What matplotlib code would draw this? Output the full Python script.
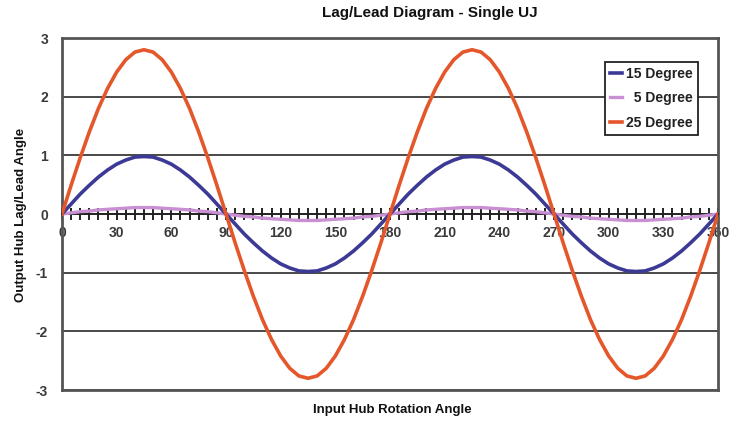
import matplotlib
matplotlib.use("Agg")
import matplotlib.pyplot as plt
from matplotlib.ticker import MultipleLocator

plt.rcParams['font.family'] = ['Liberation Sans', 'DejaVu Sans']

angles = list(range(0, 361, 5))

deg15 = [0, 0.17, 0.34, 0.49, 0.63, 0.75, 0.85, 0.92, 0.97, 0.98, 0.97, 0.92, 0.85, 0.75, 0.63, 0.49, 0.34, 0.17,
         0, -0.17, -0.34, -0.49, -0.63, -0.75, -0.85, -0.92, -0.97, -0.98, -0.97, -0.92, -0.85, -0.75, -0.63, -0.49, -0.34, -0.17,
         0, 0.17, 0.34, 0.49, 0.63, 0.75, 0.85, 0.92, 0.97, 0.98, 0.97, 0.92, 0.85, 0.75, 0.63, 0.49, 0.34, 0.17,
         0, -0.17, -0.34, -0.49, -0.63, -0.75, -0.85, -0.92, -0.97, -0.98, -0.97, -0.92, -0.85, -0.75, -0.63, -0.49, -0.34, -0.17, 0]

deg5 = [0, 0.02, 0.04, 0.05, 0.07, 0.08, 0.09, 0.10, 0.11, 0.11, 0.11, 0.10, 0.09, 0.08, 0.07, 0.05, 0.04, 0.02,
        0, -0.02, -0.04, -0.05, -0.07, -0.08, -0.09, -0.10, -0.11, -0.11, -0.11, -0.10, -0.09, -0.08, -0.07, -0.05, -0.04, -0.02,
        0, 0.02, 0.04, 0.05, 0.07, 0.08, 0.09, 0.10, 0.11, 0.11, 0.11, 0.10, 0.09, 0.08, 0.07, 0.05, 0.04, 0.02,
        0, -0.02, -0.04, -0.05, -0.07, -0.08, -0.09, -0.10, -0.11, -0.11, -0.11, -0.10, -0.09, -0.08, -0.07, -0.05, -0.04, -0.02, 0]

deg25 = [0, 0.49, 0.96, 1.40, 1.80, 2.14, 2.42, 2.63, 2.76, 2.80, 2.76, 2.63, 2.42, 2.14, 1.80, 1.40, 0.96, 0.49,
         0, -0.49, -0.96, -1.40, -1.80, -2.14, -2.42, -2.63, -2.76, -2.80, -2.76, -2.63, -2.42, -2.14, -1.80, -1.40, -0.96, -0.49,
         0, 0.49, 0.96, 1.40, 1.80, 2.14, 2.42, 2.63, 2.76, 2.80, 2.76, 2.63, 2.42, 2.14, 1.80, 1.40, 0.96, 0.49,
         0, -0.49, -0.96, -1.40, -1.80, -2.14, -2.42, -2.63, -2.76, -2.80, -2.76, -2.63, -2.42, -2.14, -1.80, -1.40, -0.96, -0.49, 0]

x_ticks = list(range(0, 361, 30))
y_ticks = [-3, -2, -1, 0, 1, 2, 3]

fig = plt.figure(figsize=(7.46, 4.21), dpi=100)
ax = fig.add_axes([0.0831, 0.0736, 0.8794, 0.8361])

for yv in y_ticks:
    ax.axhline(yv, color='#3a3a3a', lw=1.3, zorder=1)

l15, = ax.plot(angles, deg15, color='#3d3a96', lw=2.6, zorder=4, label='15 Degree')
l5, = ax.plot(angles, deg5, color='#c890d2', lw=2.4, zorder=3, label='  5 Degree')
l25, = ax.plot(angles, deg25, color='#e4572b', lw=2.6, zorder=5, label='25 Degree')

ax.set_xlim(0, 360)
ax.set_ylim(-3, 3)

ax.spines['bottom'].set_position(('data', 0))
ax.spines['bottom'].set_color('#222222')
ax.spines['bottom'].set_linewidth(1.3)
for s in ['left', 'top', 'right']:
    ax.spines[s].set_color('#555555')
    ax.spines[s].set_linewidth(2.0)
ax.axhline(-3, color='#555555', lw=2.0, zorder=6, clip_on=False)

ax.set_xticks(x_ticks)
ax.xaxis.set_minor_locator(MultipleLocator(5))
ax.tick_params(axis='x', which='both', direction='inout', length=9, width=1.3, color='#111111',
               labelsize=10, labelcolor='#3a3a3a', pad=4)
ax.set_yticks(y_ticks)
ax.tick_params(axis='y', which='both', length=0, labelsize=10, labelcolor='#3a3a3a', pad=10)
ax.set_yticklabels([str(v) for v in y_ticks], fontweight='bold')
ax.set_xticklabels([str(v) for v in x_ticks], fontweight='bold')

fig.text(0.5755, 0.968, 'Lag/Lead Diagram - Single UJ', ha='center', va='center',
         fontsize=11, fontweight='bold', color='#111111')
fig.text(0.526, 0.027, 'Input Hub Rotation Angle', ha='center', va='center',
         fontsize=9.5, fontweight='bold', color='#111111')
fig.text(0.028, 0.49, 'Output Hub Lag/Lead Angle', ha='center', va='center', rotation=90,
         fontsize=9.5, fontweight='bold', color='#111111')

leg = ax.legend(handles=[l15, l5, l25], loc='upper right', bbox_to_anchor=(0.9695, 0.932),
                frameon=True, fancybox=False, edgecolor='#222222', framealpha=1,
                fontsize=10, handlelength=0.9, handletextpad=0.3, borderpad=0.35,
                labelspacing=0.75, borderaxespad=0)
leg.get_frame().set_linewidth(1.3)
for t in leg.get_texts():
    t.set_fontweight('bold')
    t.set_color('#222222')
leg.set_zorder(10)

fig.savefig('out.png', dpi=100)
